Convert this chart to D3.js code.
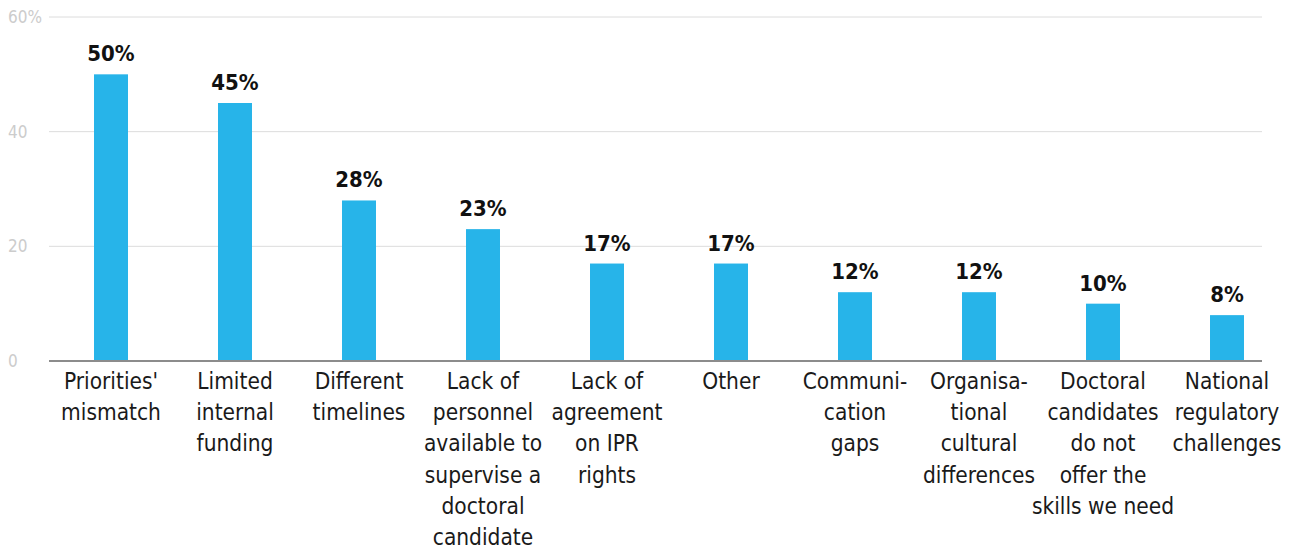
<!DOCTYPE html>
<html><head><meta charset="utf-8">
<script src="https://cdn.jsdelivr.net/npm/d3@7"></script>
<style>body{margin:0;background:#fff}svg{display:block}</style>
</head><body>
<svg id="c" width="1294" height="549"></svg>
<script>
const categories = [
  ["Priorities'", "mismatch"],
  ["Limited", "internal", "funding"],
  ["Different", "timelines"],
  ["Lack of", "personnel", "available to", "supervise a", "doctoral", "candidate"],
  ["Lack of", "agreement", "on IPR", "rights"],
  ["Other"],
  ["Communi-", "cation", "gaps"],
  ["Organisa-", "tional", "cultural", "differences"],
  ["Doctoral", "candidates", "do not", "offer the", "skills we need"],
  ["National", "regulatory", "challenges"]
];
const values = [50, 45, 28, 23, 17, 17, 12, 12, 10, 8];
const yTicks = [0, 20, 40, 60];
const yTickLabels = ["0", "20", "40", "60%"];

const svg = d3.select("#c");
const font = "DejaVu Sans Condensed, sans-serif";
const x = d3.scaleBand().domain(d3.range(categories.length)).range([49, 1289]).paddingInner(0.726).paddingOuter(0.363);
const y = d3.scaleLinear().domain([0, 60]).range([361, 17]);

// gridlines
svg.append("g").selectAll("line").data(yTicks.filter(d => d > 0)).join("line")
  .attr("x1", 49).attr("x2", 1262).attr("y1", d => y(d)).attr("y2", d => y(d))
  .attr("stroke", "#dcdcdc").attr("stroke-width", 1);
// tick labels
svg.append("g").selectAll("text").data(yTicks).join("text")
  .attr("x", 8).attr("y", d => y(d)).attr("dy", "0.35em")
  .attr("font-family", font).attr("font-size", 17).attr("fill", "#cccccc")
  .text((d, i) => yTickLabels[i]);

// bars
svg.append("g").selectAll("rect").data(values).join("rect")
  .attr("x", (d, i) => x(i)).attr("width", x.bandwidth())
  .attr("y", d => y(d)).attr("height", d => y(0) - y(d))
  .attr("fill", "#27b4e9");

// axis line
svg.append("line").attr("x1", 49).attr("x2", 1262).attr("y1", y(0)).attr("y2", y(0))
  .attr("stroke", "#8c8c8c").attr("stroke-width", 2);

// value labels
svg.append("g").selectAll("text").data(values).join("text")
  .attr("x", (d, i) => x(i) + x.bandwidth() / 2).attr("y", d => y(d) - 13)
  .attr("text-anchor", "middle").attr("font-family", font).attr("font-weight", "bold")
  .attr("font-size", 22).attr("fill", "#111")
  .text(d => d + "%");

// category labels
const cl = svg.append("g").selectAll("text").data(categories).join("text")
  .attr("x", (d, i) => x(i) + x.bandwidth() / 2).attr("y", 389)
  .attr("text-anchor", "middle").attr("font-family", font)
  .attr("font-size", 22.5).attr("fill", "#1a1a1a");
cl.selectAll("tspan").data(d => d).join("tspan")
  .attr("x", function() { return d3.select(this.parentNode).attr("x"); })
  .attr("dy", (d, i) => i === 0 ? 0 : 31.2)
  .text(d => d);
</script>
</body></html>
